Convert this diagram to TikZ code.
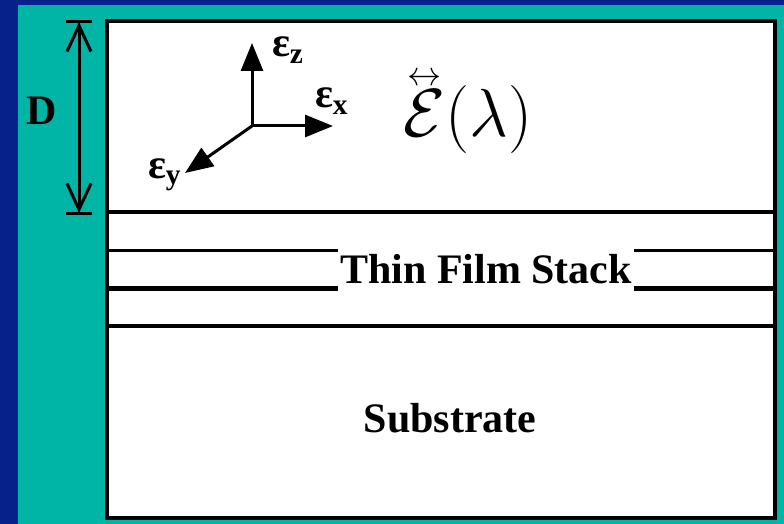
\RequirePackage{fix-cm}
\documentclass[tikz,border=0pt]{standalone}
\usepackage{amsmath}
\usepackage{fontspec}
\setmainfont{Liberation Serif}
\usetikzlibrary{arrows.meta}
\definecolor{slideblue}{HTML}{06228A}
\definecolor{slideteal}{HTML}{00B4A6}
\definecolor{inkblack}{HTML}{000000}

\begin{document}
\begin{tikzpicture}[
    x=1pt, y=-1pt,
    line width=4pt,
    line join=miter,
    bigtext/.style={font=\bfseries\fontsize{42}{48}\selectfont, inner sep=2pt},
    epstext/.style={font=\bfseries\fontsize{42}{46}\selectfont, inner sep=0pt, anchor=base west},
    axis/.style={inkblack, line width=3pt, -{Triangle[length=28pt,width=22pt]}},
    dimline/.style={inkblack, line width=3pt,
        {Straight Barb[length=26pt,width=24pt]}-{Straight Barb[length=26pt,width=24pt]}}
]

    % Slide background
    \fill[slideblue] (0,0) rectangle (784,524);
    \fill[slideteal] (18,5) rectangle (784,524);
    \useasboundingbox (0,0) rectangle (784,524);

    % Sample: ambient, thin film stack, substrate
    \draw[inkblack, fill=white] (107,21) rectangle (775,518);
    \foreach \ly/\lw in {212/4, 250/3, 288/5, 326/4} {
        \draw[inkblack, line width=\lw pt] (107,\ly) -- (775,\ly);
    }
    \node[bigtext, fill=white, minimum height=46pt] (stack) at (486,269) {Thin Film Stack};
    \node[bigtext] (substrate) at (450,418) {Substrate};

    % Thickness D of the ambient region
    \coordinate (dtop) at (79,22);
    \coordinate (dbot) at (79,213);
    \draw[dimline] (dtop) -- (dbot);
    \draw[inkblack, line width=3pt] ([xshift=-13pt]dtop) -- ([xshift=13pt]dtop);
    \draw[inkblack, line width=3pt] ([xshift=-13pt]dbot) -- ([xshift=13pt]dbot);
    \node[bigtext] (dlabel) at (42,111) {D};

    % Axes of the dielectric tensor
    \coordinate (origin) at (252,126);
    \coordinate (zend) at (252,43);
    \coordinate (xend) at (333,126);
    \coordinate (yend) at (185,173);
    \draw[axis] (origin) -- (zend);
    \draw[axis] (origin) -- (xend);
    \draw[axis] (origin) -- (yend);
    \node[epstext] (epsz) at (270,57) {ε\textsubscript{z}};
    \node[epstext] (epsx) at (313,108) {ε\textsubscript{x}};
    \node[epstext] (epsy) at (146,178) {ε\textsubscript{y}};

    % Tensor as a function of wavelength
    \node[font=\fontsize{68}{74}\selectfont, inner sep=0pt] (tensor) at (468,112)
        {$\overset{\scriptscriptstyle\leftrightarrow}{\mathcal{E}}(\lambda)$};

\end{tikzpicture}
\end{document}
